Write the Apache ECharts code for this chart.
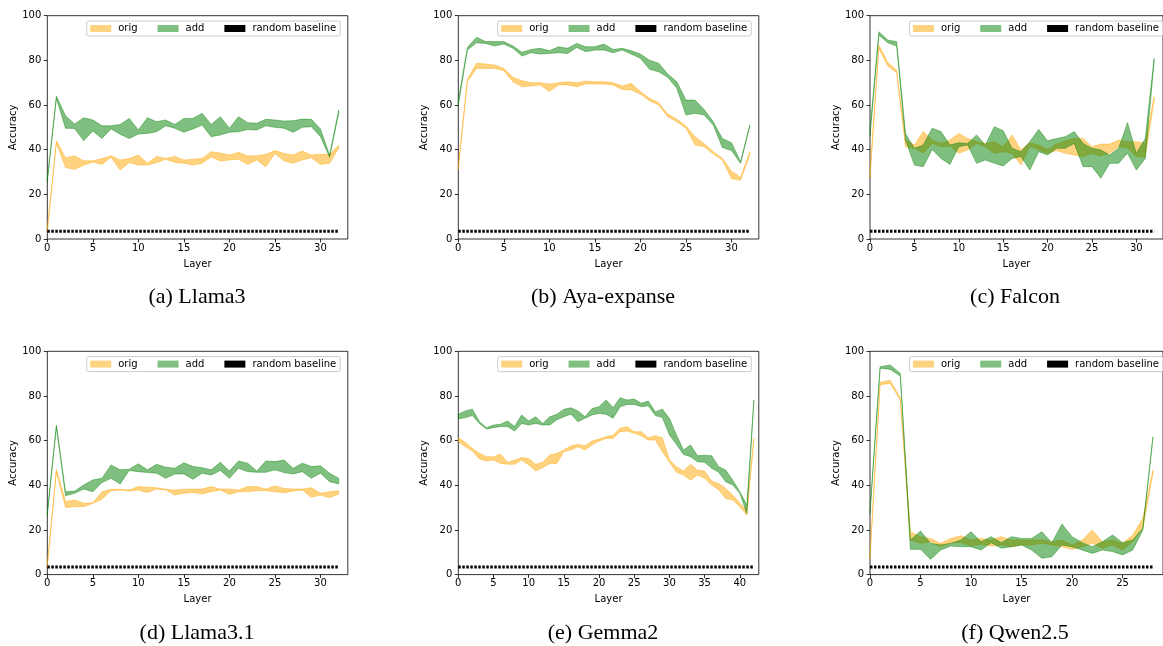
<!DOCTYPE html>
<html><head><meta charset="utf-8">
<script src="https://cdn.jsdelivr.net/npm/echarts@6/dist/echarts.min.js"></script>
<style>html,body{margin:0;padding:0;background:#fff}#c{width:1163px;height:646px}</style>
</head><body><div id="c"></div>
<script>
// ---------- data ----------
const yTicks = [0, 20, 40, 60, 80, 100];
const xTicks32 = [0, 5, 10, 15, 20, 25, 30];
const xTicks42 = [0, 5, 10, 15, 20, 25, 30, 35, 40];
const xTicks28 = [0, 5, 10, 15, 20, 25];
const randomBaseline = 3.45;

const llama3OrigHigh = [5, 44, 36.4, 37.2, 35, 35, 36, 37.3, 35.4, 36, 37.6, 33.9, 37, 36.1, 37, 35.4, 35.7, 36.1, 39.1, 38.5, 37.6, 38.8, 37.2, 37.3, 37.9, 39.6, 38.3, 37.6, 39.4, 37.6, 38, 37.9, 42];
const llama3OrigLow  = [3, 43, 32, 31.2, 33, 34.5, 33.4, 36.6, 30.9, 34.3, 33.1, 33.1, 34.2, 35.7, 34.3, 33.9, 33.1, 33.9, 36.7, 34.9, 35.4, 35.7, 33.4, 35.4, 32.4, 38.3, 34.9, 33.9, 35.4, 36.4, 33.4, 33.9, 40.6];
const llama3AddHigh  = [27, 64, 55.2, 51.5, 54.3, 53.3, 50.7, 50.7, 51.3, 54, 48.8, 54.3, 52.5, 53.3, 51.3, 54, 54, 56.3, 51.3, 54.8, 49.6, 54.8, 52.1, 51.8, 53.6, 53.3, 52.8, 53, 53.7, 53.6, 49.3, 37.6, 57.8];
const llama3AddLow   = [25.5, 63, 49.6, 49.5, 44, 48.4, 45, 49.3, 46.9, 45, 47, 47.3, 48, 50.7, 49.6, 47.8, 49.3, 51, 45.8, 46.6, 47.8, 48, 49, 48.8, 50.7, 50, 49.6, 47.8, 50, 50.3, 45.8, 36.6, 56.3];

const ayaOrigHigh = [33, 71.5, 78.7, 78.4, 77.9, 76.4, 72.4, 70.9, 70, 70, 69.4, 70, 70.4, 70, 70.7, 70.4, 70.4, 70, 68.5, 69.7, 66, 63, 61, 56, 53.6, 50.6, 45.8, 42.8, 39.1, 36.1, 30.5, 27.5, 39.1];
const ayaOrigLow  = [31, 70.4, 76.4, 76.4, 76.4, 75.4, 70.4, 68.2, 68.5, 69, 66, 69, 69, 68.2, 69.4, 69.4, 69.4, 69, 67, 66.7, 64.9, 61.9, 60, 54.8, 52.5, 49.6, 42.1, 41.3, 38.1, 35.4, 27, 26.3, 37.6];
const ayaAddHigh  = [62, 85.8, 90.3, 88.4, 88.4, 88.4, 86.4, 83.6, 84.9, 85.4, 84.3, 86.1, 85.4, 87.6, 86.1, 86.1, 87.3, 84.9, 85.4, 84.3, 82.8, 80.1, 78.7, 73.9, 70.4, 62.2, 62.2, 58, 52.5, 45, 43.1, 34.6, 51];
const ayaAddLow   = [60, 84.6, 87.9, 87.6, 86.4, 87.3, 85.4, 81.9, 83.4, 82.8, 83.1, 83.4, 83.1, 85.8, 83.9, 84.6, 84.6, 83.4, 84.6, 82.8, 80.9, 76, 74.9, 72.4, 67.5, 55.5, 56.3, 55.5, 51, 41, 39.6, 33.9, 50.3];

const falconOrigHigh = [30, 86.9, 79, 75.7, 44.3, 42.1, 48.1, 44.3, 42.8, 44.3, 47.3, 45, 43.6, 42.8, 43.6, 41.3, 46.6, 39.9, 43.1, 42.1, 40.1, 42.5, 44, 45, 45, 41.3, 42.5, 42.5, 44.3, 43.6, 43.6, 42.8, 63.7];
const falconOrigLow  = [27, 85.4, 77.5, 74.5, 41.3, 40.6, 38.4, 42.8, 41.3, 41.6, 38.4, 39.9, 42.8, 41.3, 38.4, 39.1, 38.4, 33.1, 41.6, 39.9, 38.4, 39.6, 38.4, 37.6, 36.9, 38.4, 37.2, 38.4, 41.3, 40.6, 36.9, 36.6, 62.2];
const falconAddHigh  = [49, 92.8, 89.1, 88.4, 47.3, 40.6, 42.1, 49.6, 48.1, 42.1, 43.1, 42.8, 46.6, 42.1, 50.3, 48.5, 40.6, 39.1, 43.6, 49.1, 44, 45, 45.8, 48.1, 42.8, 40.6, 39.9, 37.6, 40.6, 52.1, 38.4, 45, 80.9];
const falconAddLow   = [46, 91.3, 87.9, 86.4, 44.3, 33.1, 32.4, 40.1, 36.1, 33.4, 41.3, 42.1, 33.9, 35.4, 33.9, 32.7, 36.1, 36.9, 30.9, 39.1, 37.6, 40.6, 40.6, 42.8, 32.4, 32.4, 27.2, 33.9, 33.9, 38.4, 30.9, 36.1, 79.4];

const llama31OrigHigh = [5, 47.2, 32.7, 33.4, 31.9, 32.2, 37.1, 38.2, 38.2, 37.9, 39.4, 39.1, 38.9, 38.2, 37.9, 38.2, 38.3, 38.3, 39.4, 38.3, 38.3, 37.9, 39.4, 39.4, 38.3, 39.7, 38.6, 38.3, 38.3, 38.9, 36.4, 37.1, 37.6];
const llama31OrigLow  = [3, 46, 30.1, 30.4, 30.4, 31.9, 33.7, 37.6, 37.9, 37.4, 37.9, 36.7, 38.3, 37.9, 35.6, 36.4, 36.8, 36.1, 37.1, 37.9, 35.9, 37.1, 37.1, 37.6, 37.6, 37.1, 36.7, 37.4, 37.9, 34.6, 35.6, 34.4, 36.1];
const llama31AddHigh  = [28, 67, 37.1, 37.4, 40.1, 42.4, 43.1, 49.1, 46.9, 47.2, 49.6, 46.9, 49.4, 48.1, 47.6, 50.1, 48.4, 47.9, 46.9, 50.3, 46.4, 50.9, 49.9, 46.4, 50.9, 50.6, 51.3, 47.6, 49.9, 48.4, 48.7, 45.4, 43.1];
const llama31AddLow   = [26.5, 66, 35.3, 36.4, 38.3, 37.1, 41.2, 43.1, 40.6, 46.6, 46.1, 45.7, 45.4, 43.1, 45.1, 45.1, 42.7, 45.4, 44.6, 46.6, 43.1, 47.6, 46.1, 45.8, 45.8, 46.9, 45.7, 45.1, 46.1, 43.1, 45.4, 41.6, 40.6];

const gemma2OrigHigh = [61.3, 59.2, 56.5, 54.3, 52.8, 52.8, 54, 50.3, 51.3, 52.4, 52, 49.4, 50.3, 53.6, 54.3, 55.8, 57.7, 58.3, 57.7, 59.8, 60.7, 61.7, 62.5, 65.5, 66.2, 64, 64, 61.3, 62.2, 61.3, 51.3, 48.3, 46.4, 49.4, 46.8, 46.4, 41.9, 40.8, 38.6, 35.6, 31.9, 28.9, 61.3];
const gemma2OrigLow  = [59.5, 57.3, 55.3, 51.8, 50.9, 51.3, 49.8, 49.4, 49.4, 51.3, 49.1, 46.4, 47.9, 49.8, 49.8, 55, 55.8, 57.3, 55.8, 58, 59.8, 61, 61, 64, 64.3, 63.3, 62.2, 60.3, 60.3, 55, 50.3, 45.8, 44.6, 42.3, 44.6, 43.1, 40.1, 37.9, 34.1, 33.4, 30.4, 26.7, 60.3];
const gemma2AddHigh  = [71.8, 73.3, 74.1, 68.5, 65.8, 67, 67.3, 68.8, 66.3, 71.5, 68.8, 70.7, 67.7, 70.7, 71.8, 74, 74.7, 73.3, 70.7, 74.4, 75.2, 78.2, 74.7, 79.2, 78.2, 78.6, 76.7, 77.7, 72.9, 74.1, 70, 62.5, 55.8, 58, 53.2, 53.5, 53.2, 48.3, 46.8, 42.3, 37.1, 31.2, 78.2];
const gemma2AddLow   = [69.7, 70.3, 71.2, 67.7, 65.2, 65.8, 66.3, 66.3, 64.3, 67.7, 67, 67.7, 67, 67, 69.3, 70.7, 71.8, 68.5, 70, 71.5, 72.2, 71.8, 70, 75.2, 76.2, 76.2, 75.2, 75.6, 71.2, 70.3, 62.5, 58.3, 53.8, 52.8, 50.5, 50.3, 47.6, 45.8, 41.6, 40.1, 36.4, 27.4, 77.4];

const qwenOrigHigh = [9, 86.1, 87, 79.2, 19.2, 17, 16.2, 14, 16.2, 17.4, 15.5, 16.2, 15.5, 17, 15.5, 15.5, 15.5, 15.5, 14.7, 15.5, 13.3, 15.5, 20, 14.7, 15.5, 14, 17.7, 25.2, 46.8];
const qwenOrigLow  = [7, 85, 85.6, 78.2, 15.5, 14, 14.7, 12.5, 14.3, 14.4, 12.8, 13.6, 12.8, 13.3, 12.5, 13.3, 13.3, 14, 13.3, 12.5, 11.3, 12.5, 14, 11.8, 13.3, 11, 14.7, 20.7, 45.3];
const qwenAddHigh  = [29, 93.1, 93.9, 90.1, 15.5, 19.5, 14, 13.3, 14, 15.5, 19.2, 14.7, 17, 14.3, 17, 16.2, 16.2, 19.2, 14.3, 22.7, 17, 14.3, 12.5, 14.7, 17.7, 14.3, 15.5, 20.7, 61.7];
const qwenAddLow   = [27, 92.4, 91.9, 88.9, 11.3, 11.3, 6.8, 11, 12.8, 12.5, 12.5, 11, 14.3, 11.8, 12.5, 13.2, 11, 7.3, 8, 13.3, 12.5, 11, 9.5, 11, 10.3, 8.8, 11, 19.9, 61];

const panels = [
  {caption: '(a) Llama3',      xMax: 33,   xTicks: xTicks32, oLo: llama3OrigLow,  oHi: llama3OrigHigh,  aLo: llama3AddLow,  aHi: llama3AddHigh},
  {caption: '(b) Aya-expanse', xMax: 33,   xTicks: xTicks32, oLo: ayaOrigLow,     oHi: ayaOrigHigh,     aLo: ayaAddLow,     aHi: ayaAddHigh},
  {caption: '(c) Falcon',      xMax: 33,   xTicks: xTicks32, oLo: falconOrigLow,  oHi: falconOrigHigh,  aLo: falconAddLow,  aHi: falconAddHigh},
  {caption: '(d) Llama3.1',    xMax: 33,   xTicks: xTicks32, oLo: llama31OrigLow, oHi: llama31OrigHigh, aLo: llama31AddLow, aHi: llama31AddHigh},
  {caption: '(e) Gemma2',      xMax: 42.7, xTicks: xTicks42, oLo: gemma2OrigLow,  oHi: gemma2OrigHigh,  aLo: gemma2AddLow,  aHi: gemma2AddHigh},
  {caption: '(f) Qwen2.5',     xMax: 29,   xTicks: xTicks28, oLo: qwenOrigLow,    oHi: qwenOrigHigh,    aLo: qwenAddLow,    aHi: qwenAddHigh}
];

// ---------- layout & style ----------
const colLeft = [47.3, 458.3, 870];
const rowTop = [15.7, 351.3];
const plotW = 300.5, plotH = 223.3;
const captionX = [197, 603, 1015];
const captionY = [297, 633];
const ORANGE = 'rgba(255,165,0,0.5)';
const GREEN = 'rgba(0,128,0,0.5)';
const FONT = 'DejaVu Sans';

function bandRender(lo, hi, color) {
  return function (params, api) {
    if (params.dataIndex !== 0) return null;
    const pts = [];
    for (let i = 0; i < hi.length; i++) pts.push(api.coord([i, hi[i]]));
    for (let i = lo.length - 1; i >= 0; i--) pts.push(api.coord([i, lo[i]]));
    return {type: 'polygon', shape: {points: pts}, style: {fill: color, stroke: color, lineWidth: 0.8}};
  };
}

const grid = [], xAxis = [], yAxis = [], series = [], legend = [], graphic = [];
panels.forEach((p, k) => {
  const c = k % 3, r = Math.floor(k / 3);
  grid.push({left: colLeft[c], top: rowTop[r], width: plotW, height: plotH,
    show: true, borderColor: '#000', borderWidth: 0.8, backgroundColor: 'transparent'});
  xAxis.push({type: 'value', gridIndex: k, min: 0, max: p.xMax,
    name: 'Layer', nameLocation: 'middle', nameGap: 20,
    nameTextStyle: {fontFamily: FONT, fontSize: 10, color: '#000'},
    axisLine: {show: false}, splitLine: {show: false},
    axisTick: {show: true, length: 3.5, customValues: p.xTicks, lineStyle: {color: '#000', width: 0.8}},
    axisLabel: {customValues: p.xTicks, fontFamily: FONT, fontSize: 10, color: '#000', margin: 4}});
  yAxis.push({type: 'value', gridIndex: k, min: 0, max: 100, interval: 20,
    name: 'Accuracy', nameLocation: 'middle', nameGap: 26, nameRotate: 90,
    nameTextStyle: {fontFamily: FONT, fontSize: 10, color: '#000'},
    axisLine: {show: false}, splitLine: {show: false},
    axisTick: {show: true, length: 3.5, lineStyle: {color: '#000', width: 0.8}},
    axisLabel: {fontFamily: FONT, fontSize: 10, color: '#000', margin: 6}});
  series.push({type: 'custom', name: 'orig', xAxisIndex: k, yAxisIndex: k,
    itemStyle: {color: ORANGE}, encode: {x: 0, y: [1, 2]}, silent: true,
    data: p.oHi.map((v, i) => [i, p.oLo[i], v]), renderItem: bandRender(p.oLo, p.oHi, ORANGE)});
  series.push({type: 'custom', name: 'add', xAxisIndex: k, yAxisIndex: k,
    itemStyle: {color: GREEN}, encode: {x: 0, y: [1, 2]}, silent: true,
    data: p.aHi.map((v, i) => [i, p.aLo[i], v]), renderItem: bandRender(p.aLo, p.aHi, GREEN)});
  series.push({type: 'line', name: 'random baseline', xAxisIndex: k, yAxisIndex: k,
    symbol: 'none', silent: true, itemStyle: {color: '#000'},
    lineStyle: {color: '#000', width: 3, type: [2.5, 1.5], cap: 'butt'},
    data: [[0, randomBaseline], [p.oHi.length - 1, randomBaseline]]});
  legend.push({left: colLeft[c] + 39.4, top: rowTop[r] + 5.3, orient: 'horizontal',
    itemWidth: 21, itemHeight: 7, itemGap: 20, padding: [2.5, 4, 2.5, 3.5],
    borderColor: '#cccccc', borderWidth: 1, borderRadius: 2, backgroundColor: 'rgba(255,255,255,0.8)',
    selectedMode: false,
    textStyle: {fontFamily: FONT, fontSize: 10, color: '#000', padding: [0, 0, 0, 2]},
    data: [
      {name: 'orig', icon: 'rect', itemStyle: {color: ORANGE}},
      {name: 'add', icon: 'rect', itemStyle: {color: GREEN}},
      {name: 'random baseline', icon: 'rect', itemStyle: {color: '#000'}}
    ]});
  graphic.push({type: 'text', x: captionX[c], y: captionY[r],
    style: {text: p.caption, fontFamily: 'Liberation Serif', fontSize: 22, fill: '#000',
      textAlign: 'center', textVerticalAlign: 'middle'}});
});

const chart = echarts.init(document.getElementById('c'), null, {renderer: 'canvas'});
chart.setOption({animation: false, backgroundColor: '#fff', grid, xAxis, yAxis, series, legend, graphic});
</script></body></html>
